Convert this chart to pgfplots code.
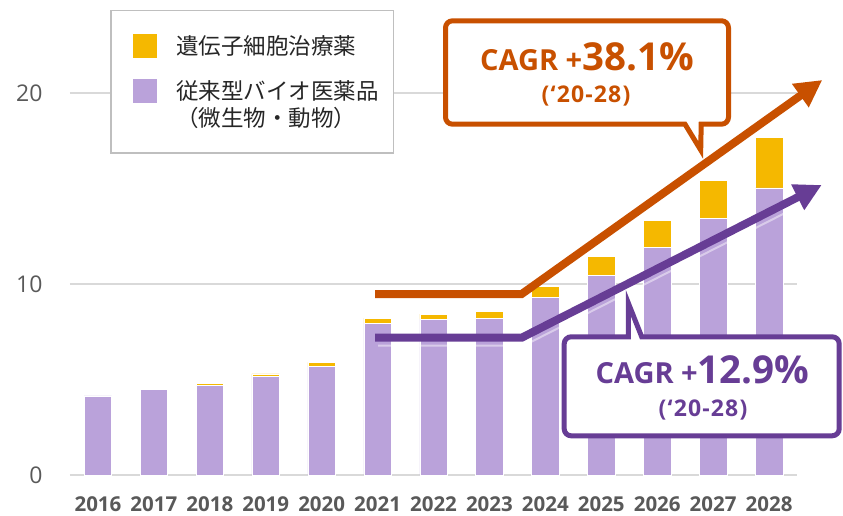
\documentclass[border=0pt]{standalone}
\usepackage{fontspec}
\setmainfont{Open Sans}
\newfontfamily\jp{Noto Sans CJK JP}
\usepackage{pgfplots}
\pgfplotsset{compat=1.18}
\usetikzlibrary{arrows.meta}

\definecolor{gold}{HTML}{F5B800}
\definecolor{barpurple}{HTML}{BAA2DA}
\definecolor{orangec}{HTML}{C85000}
\definecolor{purplec}{HTML}{673D95}
\definecolor{gridgray}{HTML}{D9D9D9}
\definecolor{legborder}{HTML}{BFBFBF}
\definecolor{ticktext}{HTML}{595959}
\definecolor{legtext}{HTML}{262626}

\begin{document}
\begin{tikzpicture}
\begin{axis}[
  scale only axis, width=727pt, height=475pt,
  xmin=-0.5, xmax=12.5, ymin=0, ymax=24.87,
  ybar stacked, bar width=27.5pt,
  axis line style={draw=none}, tick style={draw=none},
  xtick={0,...,12},
  xticklabels={2016,2017,2018,2019,2020,2021,2022,2023,2024,2025,2026,2027,2028},
  xticklabel style={font=\fontsize{20.5}{22}\selectfont\bfseries, text=ticktext,
    anchor=base, inner sep=0pt, yshift=-36.5pt},
  ytick={0,10,20}, yticklabels={0,10,20},
  yticklabel style={font=\fontsize{23}{26}\selectfont, text=ticktext,
    anchor=east, xshift=-24pt},
  ymajorgrids, grid style={draw=gridgray, line width=1.6pt},
  clip=false,
]
% 従来型バイオ医薬品（下段）
\addplot[fill=barpurple, draw=white, line width=0.5pt] coordinates {
  (0,4.14) (1,4.47) (2,4.71) (3,5.15) (4,5.67) (5,7.95) (6,8.16)
  (7,8.21) (8,9.29) (9,10.47) (10,11.91) (11,13.42) (12,15.03)};
% 遺伝子細胞治療薬（上段）
\addplot[fill=gold, draw=white, line width=0.5pt] coordinates {
  (0,0) (1,0) (2,0.09) (3,0.15) (4,0.23) (5,0.26) (6,0.26)
  (7,0.37) (8,0.58) (9,0.98) (10,1.42) (11,1.99) (12,2.65)};
\coordinate (O) at (rel axis cs:0,0);
\end{axis}

% annotations in pixel units, origin top-left of the picture
\begin{scope}[shift={(O)}, x=1pt, y=-1pt, shift={(-70,-475)}]
  % legend
  \draw[legborder, line width=1.5pt, fill=white] (110.75,10.75) rectangle (393.25,153.25);
  \fill[gold] (133,34) rectangle (157,58);
  \fill[barpurple] (133,79) rectangle (157,103);
  \begin{scope}[every node/.style={anchor=base west, inner sep=0, text=legtext,
      font=\jp\fontsize{22.5}{26}\selectfont}]
    \node at (176,54.5) {遺伝子細胞治療薬};
    \node at (176,100) {従来型バイオ医薬品};
    \node at (176,126.5) {（微生物・動物）};
  \end{scope}

  % arrows
  \draw[orangec, line width=8pt, -{Triangle[length=27pt,width=27pt]}]
    (375,294) -- (521.7,294) -- (822.3,80);
  \draw[white, opacity=0.45, line width=2pt] (378,345.5) -- (524,345.5) -- (792,209.5);
  \draw[purplec, line width=8pt, -{Triangle[length=27pt,width=27pt]}]
    (375,337.7) -- (521.7,337.7) -- (821.7,185);

  % orange callout
  \draw[orangec, line width=5pt, fill=white]
    (445.5,20.8) [rounded corners=7pt] -- (728.5,20.8) -- (728.5,124.2)
    [sharp corners] -- (701.2,124.2) -- (700.7,150) -- (685,124.2)
    [rounded corners=7pt] -- (445.5,124.2) -- cycle;
  \node[anchor=base, inner sep=0, text=orangec, font=\bfseries] at (587,71)
    {\fontsize{29}{32}\selectfont CAGR +\fontsize{38.5}{42}\selectfont 38.1\%};
  \node[anchor=base, inner sep=0, text=orangec, font=\bfseries] at (586,103)
    {\fontsize{23}{26}\selectfont\addfontfeature{LetterSpace=5}(‘20-28)};

  % purple callout
  \draw[purplec, line width=5pt, fill=white]
    (564.2,336.8) [sharp corners] -- (628.3,336.8) -- (628.3,303) -- (641.7,336.8)
    [rounded corners=7pt] -- (839.2,336.8) -- (839.2,435.8) -- (564.2,435.8) -- cycle;
  \node[anchor=base, inner sep=0, text=purplec, font=\bfseries] at (702.5,383.3)
    {\fontsize{29}{32}\selectfont CAGR +\fontsize{38.5}{42}\selectfont 12.9\%};
  \node[anchor=base, inner sep=0, text=purplec, font=\bfseries] at (703,416.5)
    {\fontsize{23}{26}\selectfont\addfontfeature{LetterSpace=5}(‘20-28)};

  \pgfresetboundingbox
  \path (0,0) rectangle (843,515);
\end{scope}
\end{tikzpicture}
\end{document}
